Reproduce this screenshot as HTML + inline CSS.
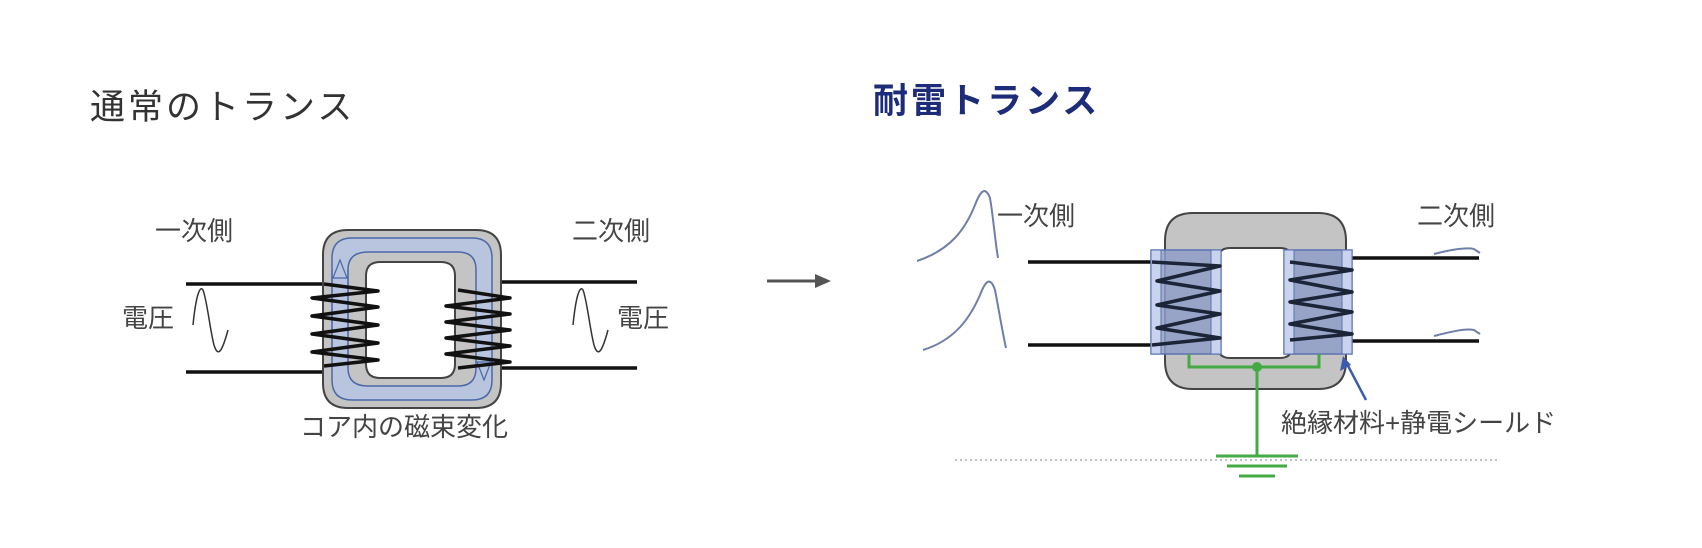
<!DOCTYPE html>
<html><head><meta charset="utf-8"><style>
html,body{margin:0;padding:0;background:#fff;}
svg{display:block}
text{font-family:"Liberation Sans","Noto Sans CJK JP",sans-serif;}
</style></head><body>
<svg width="1702" height="548" viewBox="0 0 1702 548" xmlns="http://www.w3.org/2000/svg">
<!-- Titles -->
<text x="90" y="119" font-size="35" fill="#333" letter-spacing="3">通常のトランス</text>
<text x="873" y="113" font-size="35" font-weight="bold" fill="#1d2c78" letter-spacing="3">耐雷トランス</text>

<!-- LEFT transformer -->
<text x="155" y="240" font-size="26" fill="#444">一次側</text>
<text x="572" y="240" font-size="26" fill="#444">二次側</text>
<text x="122" y="327" font-size="26" fill="#444">電圧</text>
<text x="617" y="327" font-size="26" fill="#444">電圧</text>
<path d="M193 325 C196 295 200 285 203 290 C207 300 210 330 214 345 C218 358 222 352 228 330" fill="none" stroke="#333" stroke-width="1.5"/>
<path d="M573 325 C576 295 580 285 583 290 C587 300 590 330 594 345 C598 358 602 352 608 330" fill="none" stroke="#333" stroke-width="1.5"/>
<line x1="186" y1="284" x2="324" y2="284" stroke="#111" stroke-width="3.5"/>
<line x1="186" y1="372" x2="324" y2="372" stroke="#111" stroke-width="3.5"/>
<line x1="500" y1="282" x2="637" y2="282" stroke="#111" stroke-width="3.5"/>
<line x1="500" y1="368" x2="637" y2="368" stroke="#111" stroke-width="3.5"/>
<!-- core -->
<path fill-rule="evenodd" fill="#c4c4c4" stroke="#444" stroke-width="2" d="M348 230 H476 Q501 230 501 255 V383 Q501 408 476 408 H348 Q323 408 323 383 V255 Q323 230 348 230 Z M380 262 H441 Q455 262 455 276 V364 Q455 378 441 378 H380 Q366 378 366 364 V276 Q366 262 380 262 Z"/>
<!-- flux band -->
<path fill-rule="evenodd" fill="#b9c5de" stroke="#4a68a8" stroke-width="1.5" d="M352 238 H472 Q492 238 492 258 V380 Q492 400 472 400 H352 Q332 400 332 380 V258 Q332 238 352 238 Z M368 252 H458 Q476 252 476 270 V368 Q476 386 458 386 H368 Q348 386 348 368 V270 Q348 252 368 252 Z"/>
<path d="M332 360 V270 M348 360 V270" stroke="#4a68a8" stroke-width="1.2" fill="none"/>
<polygon points="340,260 333,278 347,278" fill="#b9c5de" stroke="#4a68a8" stroke-width="1.2"/>
<polygon points="484,380 477,362 491,362" fill="#b9c5de" stroke="#4a68a8" stroke-width="1.2"/>
<!-- left coil -->
<path d="M324 284 L378 291 L312 298 L378 307 L312 316 L378 325 L312 334 L378 343 L312 352 L378 360 L324 366" fill="none" stroke="#111" stroke-width="3.5" stroke-linejoin="round"/>
<!-- right coil -->
<path d="M458 290 L510 298 L446 306 L510 314 L446 322 L510 330 L446 338 L510 346 L446 354 L510 362 L458 368" fill="none" stroke="#111" stroke-width="3.5" stroke-linejoin="round"/>
<text x="300" y="436" font-size="26" fill="#444">コア内の磁束変化</text>

<!-- arrow -->
<line x1="767" y1="281" x2="818" y2="281" stroke="#555" stroke-width="3"/>
<polygon points="831,281 815,274 815,288" fill="#555"/>

<!-- RIGHT transformer -->
<text x="997" y="225" font-size="26" fill="#444">一次側</text>
<text x="1417" y="225" font-size="26" fill="#444">二次側</text>
<path d="M917 261 C950 250 965 230 975 205 C980 192 985 185 990 198 C993 215 995 240 998 258" fill="none" stroke="#6f7fa8" stroke-width="2"/>
<path d="M923 350 C955 340 970 318 980 295 C985 282 990 275 995 290 C998 305 1002 330 1006 348" fill="none" stroke="#6f7fa8" stroke-width="2"/>
<path d="M1434 254 C1450 250 1465 247 1474 249 L1480 253" fill="none" stroke="#6f7fa8" stroke-width="2"/>
<path d="M1434 336 C1450 332 1465 328 1474 330 L1480 334" fill="none" stroke="#6f7fa8" stroke-width="2"/>
<line x1="1028" y1="262" x2="1152" y2="262" stroke="#111" stroke-width="3.5"/>
<line x1="1028" y1="345" x2="1152" y2="345" stroke="#111" stroke-width="3.5"/>
<line x1="1352" y1="258" x2="1479" y2="258" stroke="#111" stroke-width="3.5"/>
<line x1="1352" y1="341" x2="1479" y2="341" stroke="#111" stroke-width="3.5"/>
<path fill-rule="evenodd" fill="#c4c4c4" stroke="#444" stroke-width="2" d="M1193 213 H1318 Q1346 213 1346 241 V361 Q1346 389 1318 389 H1193 Q1165 389 1165 361 V241 Q1165 213 1193 213 Z M1230 248 H1280 Q1292 248 1292 260 V346 Q1292 358 1280 358 H1230 Q1218 358 1218 346 V260 Q1218 248 1230 248 Z"/>
<!-- insulator blocks -->
<rect x="1151" y="250" width="70" height="104" fill="#8f9fc8" fill-opacity="0.85" stroke="#5a72b0" stroke-width="1.5"/>
<rect x="1284" y="250" width="68" height="104" fill="#8f9fc8" fill-opacity="0.85" stroke="#5a72b0" stroke-width="1.5"/>
<rect x="1151" y="250" width="10" height="104" fill="#c9d3ee" stroke="#5a72b0" stroke-width="1"/>
<rect x="1211" y="250" width="10" height="104" fill="#c9d3ee" stroke="#5a72b0" stroke-width="1"/>
<rect x="1284" y="250" width="10" height="104" fill="#c9d3ee" stroke="#5a72b0" stroke-width="1"/>
<rect x="1342" y="250" width="10" height="104" fill="#c9d3ee" stroke="#5a72b0" stroke-width="1"/>
<path d="M1152 262 L1220 266 L1157 281 L1220 291 L1157 305 L1220 314 L1157 328 L1220 338 L1152 345" fill="none" stroke="#1c2438" stroke-width="3.5" stroke-linejoin="round"/>
<path d="M1290 262 L1352 270 L1290 280 L1352 292 L1290 302 L1352 312 L1290 324 L1352 334 L1290 340" fill="none" stroke="#1c2438" stroke-width="3.5" stroke-linejoin="round"/>
<!-- green ground -->
<path d="M1189 354 V367 H1319 V354" fill="none" stroke="#44aa44" stroke-width="3"/>
<line x1="1257" y1="367" x2="1257" y2="456" stroke="#44aa44" stroke-width="3"/>
<circle cx="1257" cy="367" r="5" fill="#44aa44"/>
<line x1="955" y1="460" x2="1498" y2="460" stroke="#aaa" stroke-width="1.5" stroke-dasharray="2,3"/>
<line x1="1216" y1="456" x2="1298" y2="456" stroke="#44aa44" stroke-width="3"/>
<line x1="1227" y1="466" x2="1287" y2="466" stroke="#44aa44" stroke-width="3"/>
<line x1="1239" y1="476" x2="1275" y2="476" stroke="#44aa44" stroke-width="3"/>
<!-- pointer -->
<line x1="1346" y1="362" x2="1366" y2="400" stroke="#3d5cae" stroke-width="2.5"/>
<polygon points="1343,356 1340,371 1351,365" fill="#3d5cae"/>
<text x="1281" y="432" font-size="26" fill="#444">絶縁材料+静電シールド</text>
</svg>
</body></html>
